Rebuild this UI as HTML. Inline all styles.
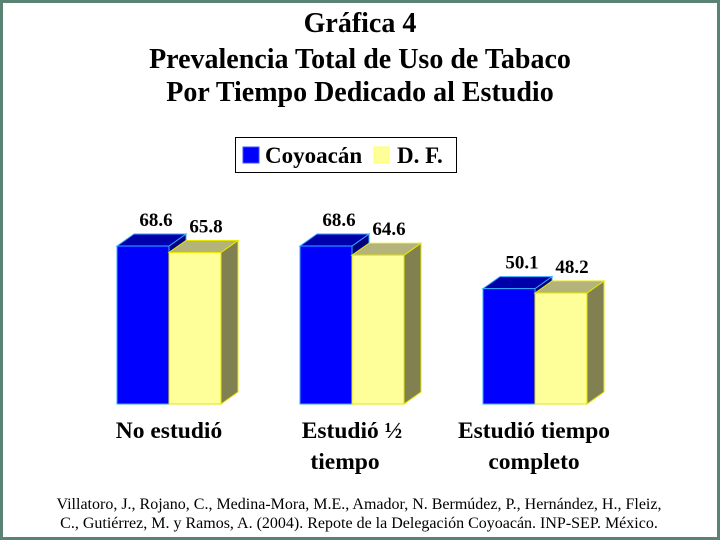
<!DOCTYPE html>
<html><head><meta charset="utf-8"><style>
html,body{margin:0;padding:0;background:#fff}
#frame{position:relative;width:714px;height:534px;border:3px solid #5b8373;background:#fff;overflow:hidden}
svg{position:absolute;left:-3px;top:-3px}
text{font-family:"Liberation Serif",serif}
</style></head><body>
<div id="frame">
<svg id="chart" width="720" height="540">
<g font-weight="bold" font-size="28" text-anchor="middle" fill="#000">
<text x="360" y="32">Gráfica 4</text>
<text x="360" y="68">Prevalencia Total de Uso de Tabaco</text>
<text x="360" y="101">Por Tiempo Dedicado al Estudio</text>
</g>
<g>
<rect x="235.5" y="137.5" width="221" height="35" fill="#fff" stroke="#000"/>
<rect x="243" y="147" width="16" height="16" fill="#0000ff" stroke="#3355ff"/>
<text x="265" y="163" font-size="23" font-weight="bold">Coyoacán</text>
<rect x="374" y="147" width="15" height="16" fill="#ffff99" stroke="#ffff66"/>
<text x="397" y="163" font-size="23" font-weight="bold">D. F.</text>
</g>
<g id="bars"></g>
<g font-weight="bold" font-size="23.5" text-anchor="middle">
<text x="169" y="438">No estudió</text>
<text x="352" y="438">Estudió ½</text>
<text x="345" y="469">tiempo</text>
<text x="534" y="438">Estudió tiempo</text>
<text x="534" y="469">completo</text>
</g>
<g font-size="16" text-anchor="middle">
<text x="359" y="509">Villatoro, J., Rojano, C., Medina-Mora, M.E., Amador, N. Bermúdez, P., Hernández, H., Fleiz,</text>
<text x="359" y="528">C., Gutiérrez, M. y Ramos, A. (2004). Repote de la Delegación Coyoacán. INP-SEP. México.</text>
</g>
</svg>
</div>
<script>
const categories = ["No estudió", "Estudió ½ tiempo", "Estudió tiempo completo"];
const coyoacanValues = [68.6, 68.6, 50.1];
const dfValues = [65.8, 64.6, 48.2];

const baseY = 404, pxPerUnit = 158/68.6;
const groupX0 = 117, groupStep = 183, barW = 52, dx = 17, dy = 12;
function yScale(v){ return baseY - v*pxPerUnit; }
function xBand(i){ return groupX0 + i*groupStep; }

const NS = "http://www.w3.org/2000/svg";
const g = document.getElementById('bars');
function mk(tag, attrs){ const e=document.createElementNS(NS,tag); for(const k in attrs) e.setAttribute(k,attrs[k]); return e; }

function drawBar(x, v, front, top, side, stroke, name){
  const y = yScale(v);
  const grp = mk('g',{});
  
  
  const pts = (a)=>a.map(p=>p.join(',')).join(' ');
  const s = mk('polygon',{points:pts([[x+barW,y],[x+barW+dx,y-dy],[x+barW+dx,baseY-dy],[x+barW,baseY]]),fill:side,stroke:stroke,'stroke-width':1});
  
  
  const t = mk('polygon',{points:pts([[x,y],[x+dx,y-dy],[x+barW+dx,y-dy],[x+barW,y]]),fill:top,stroke:stroke,'stroke-width':1});
  
  
  const f = mk('rect',{x:x,y:y,width:barW,height:baseY-y,fill:front,stroke:stroke,'stroke-width':1});
  
  
  grp.appendChild(s); grp.appendChild(t); grp.appendChild(f);
  g.appendChild(grp);
}
function label(x, v, yoff, name){
  const t = mk('text',{x:x,y:yScale(v)-yoff,'font-size':19,'font-weight':'bold','text-anchor':'middle'});
  t.textContent = v.toFixed(1);
  
  
  g.appendChild(t);
}
categories.forEach((c,i)=>{
  const x = xBand(i);
  drawBar(x, coyoacanValues[i], '#0000ff', '#0000aa', '#000080', '#33aaff', 'bar-coyoacan-'+i);
  drawBar(x+barW, dfValues[i], '#ffff99', '#b3b37a', '#808050', '#e6e600', 'bar-df-'+i);
  label(x+39, coyoacanValues[i], 20, 'value-label-coyoacan-'+i);
  label(x+barW+37, dfValues[i], 20, 'value-label-df-'+i);
});
</script>
</body></html>
